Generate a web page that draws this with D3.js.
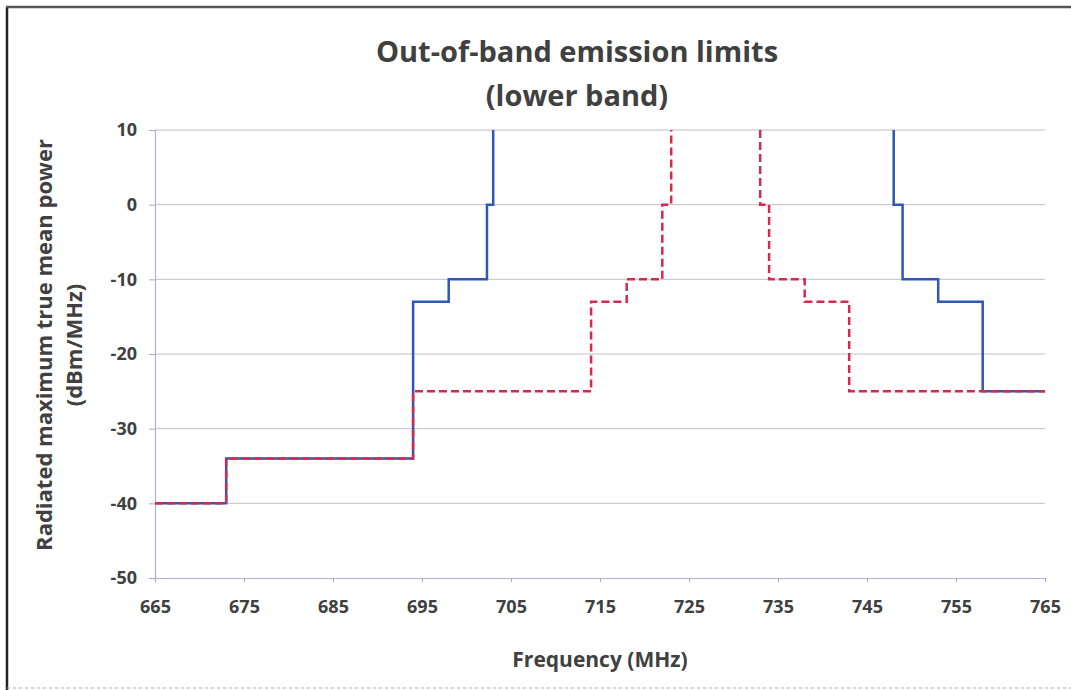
<!DOCTYPE html>
<html>
<head>
<meta charset="utf-8">
<script src="https://cdn.jsdelivr.net/npm/d3@7"></script>
<style>
  body { margin: 0; background: #fff; }
  text { font-family: "Open Sans", sans-serif; fill: #404040; }
</style>
</head>
<body>
<div class="my_div"></div>
<script>
// Frequency ticks and level ticks
var xTicks = [665, 675, 685, 695, 705, 715, 725, 735, 745, 755, 765];
var yTicks = [10, 0, -10, -20, -30, -40, -50];

// Solid blue limit, lower and upper skirt
var blueLowFreq = [665, 673, 694, 698, 702.3, 703];
var blueLowLevel = [-40, -34, -13, -10, 0, 10];
var blueHighFreq = [748, 749, 753, 758, 765];
var blueHighLevel = [10, 0, -10, -13, -25];

// Dashed red limit, lower and upper skirt
var redLowFreq = [665, 673, 694, 714, 718, 722, 723];
var redLowLevel = [-40, -34, -25, -13, -10, 0, 10];
var redHighFreq = [733, 734, 738, 743, 765];
var redHighLevel = [10, 0, -10, -13, -25];

var width = 1071,
    height = 690;

var xScale = d3.scaleLinear()
    .domain([665, 765])
    .range([155, 1045]);

var yScale = d3.scaleLinear()
    .domain([-50, 10])
    .range([578, 130]);

var svg = d3.select(".my_div")
    .append("svg")
    .attr("width", width)
    .attr("height", height);

// outer frame (left and top edges only show in the scan)
svg.append("line")
    .attr("x1", 7).attr("x2", 7).attr("y1", 7).attr("y2", 690)
    .attr("stroke", "#222").attr("stroke-width", 2.5);
svg.append("line")
    .attr("x1", 6).attr("x2", 1071).attr("y1", 7).attr("y2", 7)
    .attr("stroke", "#555").attr("stroke-width", 2.5);
svg.append("line")
    .attr("x1", 7).attr("x2", 1071).attr("y1", 688).attr("y2", 688)
    .attr("stroke", "#aaa").attr("stroke-width", 1).attr("stroke-dasharray", "3,3");

// horizontal grid
svg.append("g")
    .selectAll("line")
    .data(yTicks.filter((d) => { return d != -50 }))
    .enter()
    .append("line")
    .attr("x1", xScale(665))
    .attr("x2", xScale(765))
    .attr("y1", (d) => { return yScale(d) })
    .attr("y2", (d) => { return yScale(d) })
    .attr("stroke", "#c4bcc8")
    .attr("stroke-width", 1);

// axes, plain hyphen for negatives like the original
var xAxis = svg.append("g")
    .attr("transform", "translate(0," + yScale(-50) + ")")
    .call(d3.axisBottom(xScale).tickValues(xTicks).tickSize(4).tickPadding(18).tickFormat((d) => { return String(d) }));

var yAxis = svg.append("g")
    .attr("transform", "translate(" + xScale(665) + ",0)")
    .call(d3.axisLeft(yScale).tickValues(yTicks).tickSize(6).tickPadding(12).tickFormat((d) => { return String(d) }));

[xAxis, yAxis].forEach((a) => {
    a.select(".domain").attr("stroke", "#b9a9d6").attr("stroke-width", 1.2);
    a.selectAll(".tick line").attr("stroke", "#b0a4c0");
    a.selectAll(".tick text")
        .attr("fill", "#404040")
        .style("font-size", "18px")
        .style("font-weight", "bold")
        .style("font-family", "'Open Sans', sans-serif");
});

// step lines
var lineAfter = d3.line()
    .x((d) => { return xScale(d[0]) })
    .y((d) => { return yScale(d[1]) })
    .curve(d3.curveStepAfter);

var lineBefore = d3.line()
    .x((d) => { return xScale(d[0]) })
    .y((d) => { return yScale(d[1]) })
    .curve(d3.curveStepBefore);

function drawStep(freq, level, gen, color, dash) {
    svg.append("path")
        .datum(d3.zip(freq, level))
        .attr("d", gen)
        .attr("fill", "none")
        .attr("stroke", color)
        .attr("stroke-width", 2.5)
        .attr("stroke-dasharray", dash);
}

drawStep(blueLowFreq, blueLowLevel, lineAfter, "#2d58b8", null);
drawStep(blueHighFreq, blueHighLevel, lineBefore, "#2d58b8", null);
drawStep(redLowFreq, redLowLevel, lineAfter, "#d42a4c", "8,4");
drawStep(redHighFreq, redHighLevel, lineBefore, "#d42a4c", "8,4");

// titles
svg.append("text")
    .text("Out-of-band emission limits")
    .attr("x", 577).attr("y", 62)
    .attr("text-anchor", "middle")
    .style("font-size", "29px")
    .style("font-weight", "bold");

svg.append("text")
    .text("(lower band)")
    .attr("x", 577).attr("y", 106)
    .attr("text-anchor", "middle")
    .style("font-size", "29px")
    .style("font-weight", "bold");

svg.append("text")
    .text("Frequency (MHz)")
    .attr("x", 600).attr("y", 667)
    .attr("text-anchor", "middle")
    .style("font-size", "21px")
    .style("font-weight", "bold");

svg.append("text")
    .text("Radiated maximum true mean power")
    .attr("transform", "translate(52,345) rotate(-90)")
    .attr("text-anchor", "middle")
    .style("font-size", "22px")
    .style("font-weight", "bold");

svg.append("text")
    .text("(dBm/MHz)")
    .attr("transform", "translate(82,345) rotate(-90)")
    .attr("text-anchor", "middle")
    .style("font-size", "22px")
    .style("font-weight", "bold");
</script>
</body>
</html>
